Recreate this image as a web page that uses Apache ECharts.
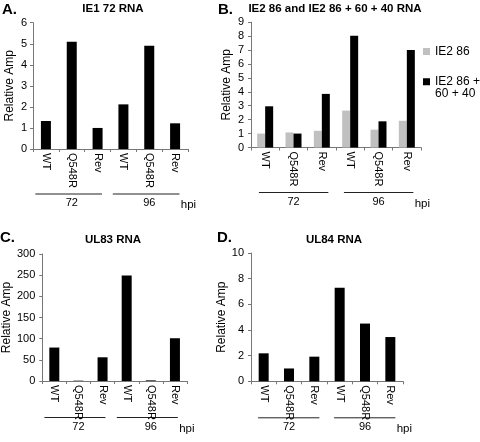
<!DOCTYPE html>
<html>
<head>
<meta charset="utf-8">
<script src="https://cdn.jsdelivr.net/npm/echarts@6/dist/echarts.min.js"></script>
<style>
  html, body { margin: 0; padding: 0; background: #fff; }
  #chart { width: 480px; height: 442px; }
</style>
</head>
<body>
<div id="chart"></div>
<script>
// ---------- data ----------
const categories = ['WT', 'Q548R', 'Rev', 'WT', 'Q548R', 'Rev'];
const hpiGroups = ['72', '96'];
const hpiUnit = 'hpi';
const ie1Values = [1.33, 5.1, 1.0, 2.12, 4.91, 1.22];
const ie2_86Values = [1.0, 1.08, 1.2, 2.65, 1.28, 1.92];
const ie2_86_60_40Values = [2.96, 1.0, 3.85, 8.02, 1.88, 7.0];
const ul83Values = [79, 0.8, 56, 249, 1.5, 101];
const ul84Values = [2.18, 1.0, 1.92, 7.3, 4.5, 3.45];
const panelTitles = ['IE1 72 RNA', 'IE2 86 and IE2 86 + 60 + 40 RNA', 'UL83 RNA', 'UL84 RNA'];
const panelLetters = ['A.', 'B.', 'C.', 'D.'];
const yAxisName = 'Relative Amp';
const legendNames = ['IE2 86', 'IE2 86 +\n60 + 40'];
const yMaxes = [6, 9, 300, 10];
const yIntervals = [1, 1, 50, 2];

// ---------- layout / style ----------
const FONT = '"Liberation Sans", Arial, Helvetica, sans-serif';
const AXIS_COLOR = '#777';
const grids = [
  { left: 33, top: 22.7, width: 155, height: 126.3 },
  { left: 251, top: 22.2, width: 170, height: 125.3 },
  { left: 42, top: 254, width: 145, height: 127 },
  { left: 251, top: 253, width: 152, height: 128.3 }
];
const yLabelMargins = [6, 7, 7, 7];
const yNameGaps = [17, 18, 29, 18];
const titlePos = [
  { x: 113, y: 3 }, { x: 335, y: 3 }, { x: 113, y: 234 }, { x: 334, y: 234 }
];
const letterPos = [
  { x: 2, y: 2 }, { x: 218, y: 2 }, { x: 0, y: 230 }, { x: 217, y: 230 }
];
const groupLineOffset = [45, 45, 36.5, 36.5];
const groupInset = [[0.41, 0.17], [0.22, 0.23], [0.41, 0.12], [0.22, 0.2]];

const chart = echarts.init(document.getElementById('chart'), null, { renderer: 'canvas' });

const xAxes = grids.map((g, i) => ({
  type: 'category',
  gridIndex: i,
  data: categories,
  boundaryGap: true,
  axisLine: { show: true, lineStyle: { color: AXIS_COLOR, width: 1 } },
  axisTick: { show: true, length: 3, lineStyle: { color: AXIS_COLOR } },
  axisLabel: {
    rotate: -90, margin: 4, interval: 0,
    color: '#000', fontSize: 11, fontFamily: FONT
  },
  splitLine: { show: false }
}));

const yAxes = grids.map((g, i) => ({
  type: 'value',
  gridIndex: i,
  min: 0,
  max: yMaxes[i],
  interval: yIntervals[i],
  name: yAxisName,
  nameLocation: 'middle',
  nameRotate: 90,
  nameGap: yNameGaps[i],
  nameTextStyle: { color: '#000', fontSize: 12, fontFamily: FONT },
  axisLine: { show: true, lineStyle: { color: AXIS_COLOR, width: 1 } },
  axisTick: { show: true, length: 3, lineStyle: { color: AXIS_COLOR } },
  axisLabel: { margin: yLabelMargins[i], color: '#000', fontSize: 11, fontFamily: FONT },
  splitLine: { show: false }
}));

const titles = [];
panelTitles.forEach((t, i) => {
  titles.push({
    text: t, left: titlePos[i].x, top: titlePos[i].y, textAlign: 'center', padding: 0,
    textStyle: { fontSize: 11.5, fontWeight: 'bold', color: '#000', fontFamily: FONT }
  });
});
panelLetters.forEach((t, i) => {
  titles.push({
    text: t, left: letterPos[i].x, top: letterPos[i].y, padding: 0,
    textStyle: { fontSize: 15, fontWeight: 'bold', color: '#000', fontFamily: FONT }
  });
});

const option = {
  animation: false,
  backgroundColor: '#fff',
  title: titles,
  grid: grids.map(g => Object.assign({ containLabel: false }, g)),
  xAxis: xAxes,
  yAxis: yAxes,
  legend: [
    {
      data: [legendNames[0]], left: 423, top: 45.5, orient: 'vertical', padding: 0,
      selectedMode: false, itemWidth: 7, itemHeight: 7, icon: 'rect',
      textStyle: { fontSize: 12, color: '#000', fontFamily: FONT }
    },
    {
      data: [{ name: legendNames[1], icon: 'path://M0,0h7v7h-7zM0,19h0.01v0.01h-0.01z' }],
      left: 423, top: 76, orient: 'vertical', padding: 0,
      selectedMode: false, itemWidth: 7, itemHeight: 19,
      textStyle: { fontSize: 12, lineHeight: 11.5, color: '#000', fontFamily: FONT }
    }
  ],
  series: [
    { type: 'bar', name: 'IE1 72', xAxisIndex: 0, yAxisIndex: 0, data: ie1Values,
      barWidth: 10, itemStyle: { color: '#000' } },
    { type: 'bar', name: legendNames[0], xAxisIndex: 1, yAxisIndex: 1, data: ie2_86Values,
      barWidth: 8, barGap: '0%', itemStyle: { color: '#c0c0c0' } },
    { type: 'bar', name: legendNames[1], xAxisIndex: 1, yAxisIndex: 1, data: ie2_86_60_40Values,
      barWidth: 8, barGap: '0%', itemStyle: { color: '#000' } },
    { type: 'bar', name: 'UL83', xAxisIndex: 2, yAxisIndex: 2, data: ul83Values,
      barWidth: 10, itemStyle: { color: '#000' } },
    { type: 'bar', name: 'UL84', xAxisIndex: 3, yAxisIndex: 3, data: ul84Values,
      barWidth: 10, itemStyle: { color: '#000' } }
  ]
};

chart.setOption(option);

// group annotations (72 / 96 hpi) derived from the axes' own scales
const graphics = [];
grids.forEach((g, gi) => {
  const cx = idx => chart.convertToPixel({ xAxisIndex: gi }, idx);
  const band = cx(1) - cx(0);
  const y0 = chart.convertToPixel({ yAxisIndex: gi }, 0);
  const lineY = y0 + groupLineOffset[gi];
  let lastEnd = 0;
  hpiGroups.forEach((grp, k) => {
    const first = k * 3, last = k * 3 + 2;
    const x1 = cx(first) - groupInset[gi][0] * band;
    const x2 = cx(last) + groupInset[gi][1] * band;
    lastEnd = x2;
    graphics.push({
      type: 'line', silent: true,
      shape: { x1: x1, y1: lineY, x2: x2, y2: lineY },
      style: { stroke: '#222', lineWidth: 1 }
    });
    graphics.push({
      type: 'text', silent: true, x: cx(first + 1), y: lineY + 9,
      style: { text: grp, fill: '#000', font: '11px ' + FONT, align: 'center', verticalAlign: 'middle' }
    });
  });
  graphics.push({
    type: 'text', silent: true, x: lastEnd + 9, y: lineY + 11,
    style: { text: hpiUnit, fill: '#000', font: '11.5px ' + FONT, align: 'center', verticalAlign: 'middle' }
  });
});
chart.setOption({ graphic: graphics });
</script>
</body>
</html>
